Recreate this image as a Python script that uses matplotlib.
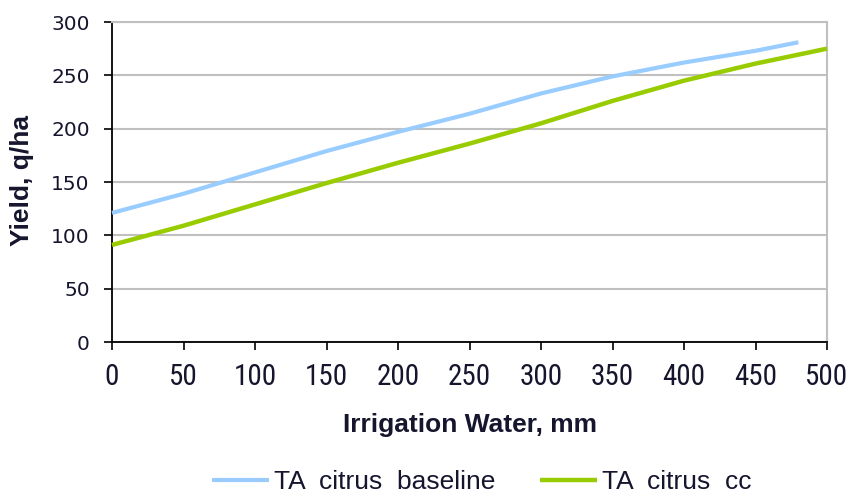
import matplotlib
matplotlib.use("Agg")
import matplotlib.pyplot as plt
from matplotlib import font_manager as fm

# ---- data ----
water_baseline = [0, 50, 100, 150, 200, 250, 300, 350, 400, 450, 480]
yield_baseline = [121, 139, 159, 179, 197, 214, 233, 249, 262, 273, 281]
water_cc = [0, 50, 100, 150, 200, 250, 300, 350, 400, 450, 500]
yield_cc = [91, 109, 129, 149, 168, 186, 205, 226, 245, 261, 275]
x_ticks = [0, 50, 100, 150, 200, 250, 300, 350, 400, 450, 500]
y_ticks = [0, 50, 100, 150, 200, 250, 300]
label_baseline = "TA  citrus  baseline"
label_cc = "TA  citrus  cc"
x_title = "Irrigation Water, mm"
y_title = "Yield, q/ha"


def find_condensed():
    cands = [("Liberation Sans Narrow", "normal"), ("Roboto Condensed", "normal"),
             ("DejaVu Sans", "condensed"), ("Noto Sans", "condensed"),
             ("Open Sans", "condensed"), ("Roboto", "condensed")]
    for fam, st in cands:
        try:
            p = fm.findfont(fm.FontProperties(family=fam, stretch=st),
                            fallback_to_default=False)
        except Exception:
            continue
        low = p.lower()
        if "narrow" in low or "condensed" in low:
            return fm.FontProperties(fname=p)
    return None


cond = find_condensed()
TXT = "#15152e"

fig = plt.figure(figsize=(8.5, 4.97), dpi=100)
ax = fig.add_axes([112 / 850, 1 - 342 / 497, 715 / 850, 320 / 497])

ax.plot(water_baseline, yield_baseline, color="#99ccff", lw=3.0,
        solid_capstyle="butt", clip_on=False, label=label_baseline, zorder=3)
ax.plot(water_cc, yield_cc, color="#99cc00", lw=3.2,
        solid_capstyle="butt", clip_on=False, label=label_cc, zorder=3)

ax.set_xlim(0, 500)
ax.set_ylim(0, 300)
ax.set_xticks(x_ticks)
ax.set_yticks(y_ticks)
xt = ax.set_xticklabels([str(v) for v in x_ticks], color=TXT)
for t in xt:
    if cond is not None:
        t.set_fontproperties(cond)
        t.set_fontsize(21)
    else:
        t.set_fontfamily("Liberation Sans")
        t.set_fontsize(17)
ax.set_yticklabels([str(v) for v in y_ticks], fontfamily="DejaVu Sans", fontsize=14.5, color=TXT)
ax.tick_params(axis="x", direction="out", length=6, width=1.2, pad=9, color="black")
ax.tick_params(axis="y", direction="out", length=6, width=1.2, pad=10, color="black")

ax.grid(axis="y", color="#c0c0c0", lw=1.5, zorder=0)
ax.set_axisbelow(True)
for s in ["left", "bottom"]:
    ax.spines[s].set_color("black")
    ax.spines[s].set_linewidth(1.3)
for s in ["top", "right"]:
    ax.spines[s].set_color("#c0c0c0")
    ax.spines[s].set_linewidth(1.5)

fig.text(470 / 850, 1 - 432 / 497, x_title, ha="center", va="baseline",
         fontsize=19, fontweight="bold", fontfamily="Liberation Sans", color=TXT)
fig.text(22 / 850, 1 - 181 / 497, y_title, ha="center", va="center", rotation=90,
         fontsize=19, fontweight="bold", fontfamily="Liberation Sans", color=TXT)

leg = fig.legend(loc="center", bbox_to_anchor=(482 / 850, 1 - 482 / 497), ncol=2,
                 frameon=False, prop={"family": "Liberation Sans", "size": 19},
                 handlelength=2.15, handletextpad=0.2, columnspacing=1.7,
                 borderpad=0, borderaxespad=0)
for t in leg.get_texts():
    t.set_color(TXT)

fig.savefig("out.png", dpi=100)
